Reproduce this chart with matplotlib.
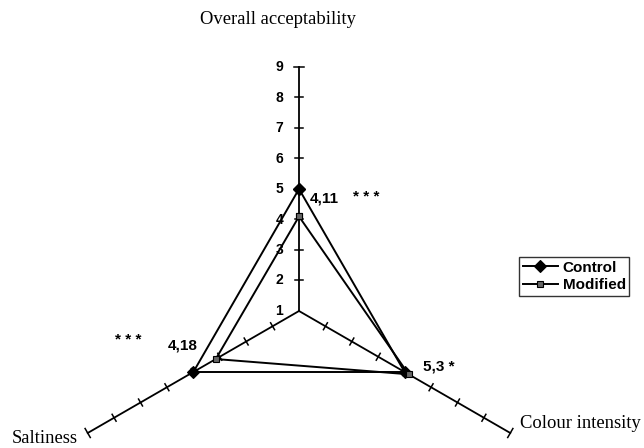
import numpy as np
import matplotlib
matplotlib.use("Agg")
from matplotlib import pyplot as plt

# attributes, clockwise from the top (Excel-style radar)
attributes = ['Overall acceptability', 'Colour intensity', 'Saltiness']
angles_deg = [90, -30, 210]
control = [5.0, 5.0, 5.0]
modified = [4.1, 5.15, 4.15]
scale_ticks = [1, 2, 3, 4, 5, 6, 7, 8, 9]
scale_min, scale_max = 1, 9

# significance notes next to each control point
notes = ['4,11', '5,3 *', '4,18']
stars = '* * *'


def to_xy(values, angles):
    r = np.asarray(values) - scale_min
    a = np.radians(angles)
    return r * np.cos(a), r * np.sin(a)


fig = plt.figure(figsize=(6.44, 4.48), dpi=100)
ax = fig.add_axes([0, 0, 1, 1])
ppu = 30.5  # pixels per scale unit
cx, cy = 299, 311
ax.set_xlim(-cx / ppu, (644 - cx) / ppu)
ax.set_ylim((cy - 448) / ppu, cy / ppu)
ax.set_aspect('equal')
ax.axis('off')

# spokes with tick marks
for ang in angles_deg:
    a = np.radians(ang)
    ex, ey = to_xy([scale_max], [ang])
    ax.plot([0, ex[0]], [0, ey[0]], color='black', lw=1.3, zorder=1)
    px, py = -np.sin(a), np.cos(a)
    for v in scale_ticks[1:]:
        tx, ty = to_xy([v], [ang])
        h = 0.13 if v < scale_max else 0.17
        ax.plot([tx[0] - px * h, tx[0] + px * h], [ty[0] - py * h, ty[0] + py * h],
                color='black', lw=1.1, zorder=1)

# scale numbers on the vertical spoke
for v in scale_ticks:
    tx, ty = to_xy([v], [90])
    ax.annotate(str(v), (tx[0], ty[0]), xytext=(-11.5, 0), textcoords='offset points',
                ha='right', va='center', fontsize=10, fontweight='bold',
                family='Liberation Sans')

# series
for vals, mk, ms, fc, lab in [(control, 'D', 6.5, 'black', 'Control'),
                              (modified, 's', 4.5, '#666666', 'Modified')]:
    x, y = to_xy(vals + vals[:1], angles_deg + angles_deg[:1])
    ax.plot(x, y, color='black', lw=1.4, marker=mk, markersize=ms,
            markerfacecolor=fc, markeredgecolor='black', markeredgewidth=0.8,
            label=lab, zorder=3)

# attribute labels
serif = dict(family='Liberation Serif', fontsize=13.4)
ex, ey = to_xy([scale_max] * 3, angles_deg)
ax.annotate(attributes[0], (ex[0], ey[0]), xytext=(-15, 34), textcoords='offset points',
            ha='center', va='center', **serif)
ax.annotate(attributes[1], (ex[1], ey[1]), xytext=(7, 7), textcoords='offset points',
            ha='left', va='center', **serif)
ax.annotate(attributes[2], (ex[2], ey[2]), xytext=(-7, -4), textcoords='offset points',
            ha='right', va='center', **serif)

# notes
sans = dict(family='Liberation Sans', fontsize=11, fontweight='bold')
px_, py_ = to_xy(control, angles_deg)
ax.annotate(notes[0], (px_[0], py_[0]), xytext=(8, -7), textcoords='offset points',
            ha='left', va='center', **sans)
ax.annotate(stars, (px_[0], py_[0]), xytext=(39, -6), textcoords='offset points',
            ha='left', va='center', **sans)
ax.annotate(notes[1], (px_[1], py_[1]), xytext=(13, 4), textcoords='offset points',
            ha='left', va='center', **sans)
ax.annotate(notes[2], (px_[2], py_[2]), xytext=(3, 19), textcoords='offset points',
            ha='right', va='center', **sans)
ax.annotate(stars, (px_[2], py_[2]), xytext=(-37, 23), textcoords='offset points',
            ha='right', va='center', **sans)

leg = fig.legend(loc='upper left', bbox_to_anchor=(519 / 644, 1 - 257 / 448),
                 prop={'family': 'Liberation Sans', 'weight': 'bold', 'size': 11},
                 frameon=True, fancybox=False, handlelength=2.3, handletextpad=0.3,
                 borderpad=0.25, labelspacing=0.2, borderaxespad=0)
leg.get_frame().set_edgecolor('black')
leg.get_frame().set_linewidth(1.0)

fig.savefig('out.png', dpi=100)
